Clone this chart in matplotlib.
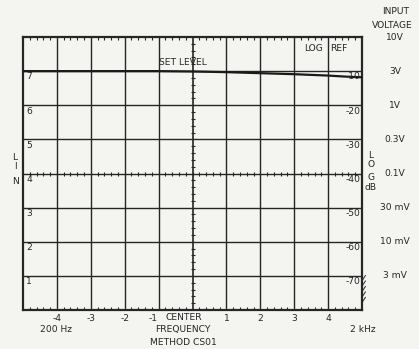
import numpy as np
import matplotlib.pyplot as plt
from matplotlib.ticker import MultipleLocator

# trace (horizontal divisions, vertical divisions)
freq_div = [-5, -4, -3, -2, -1, 0, 1, 2, 3, 4, 4.5, 5]
level_div = [7.0, 7.0, 7.0, 7.0, 7.0, 6.99, 6.97, 6.94, 6.91, 6.87, 6.84, 6.82]

lin_labels = ['1', '2', '3', '4', '5', '6', '7']
log_labels = ['-70', '-60', '-50', '-40', '-30', '-20', '-10']
volt_labels = ['3 mV', '10 mV', '30 mV', '0.1V', '0.3V', '1V', '3V', '10V']
freq_labels = ['-4', '-3', '-2', '-1', '1', '2', '3', '4']
freq_pos = [-4, -3, -2, -1, 1, 2, 3, 4]

bg = '#f4f4f1'
ink = '#262626'
fs = 6.6
fw = 'normal'

fig = plt.figure(figsize=(4.19, 3.49), dpi=100, facecolor=bg)
ax = fig.add_axes([23 / 419, 1 - 310 / 349, 339 / 419, 273 / 349])
ax.set_facecolor(bg)
ax.set_xlim(-5, 5)
ax.set_ylim(0, 8)

# graticule
for x in range(-4, 5):
    ax.axvline(x, color=ink, lw=1.0 if x else 1.2, zorder=1)
for y in range(1, 8):
    ax.axhline(y, color=ink, lw=1.0, zorder=1)
for s in ax.spines.values():
    s.set_color(ink)
    s.set_linewidth(1.6)

ax.xaxis.set_major_locator(MultipleLocator(1))
ax.xaxis.set_minor_locator(MultipleLocator(0.2))
ax.yaxis.set_major_locator(MultipleLocator(1))
ax.tick_params(which='both', direction='in', top=True, bottom=True,
               left=False, right=False, labelbottom=False, labelleft=False,
               color=ink)
ax.tick_params(which='major', length=0)
ax.tick_params(which='minor', length=2.2, width=0.8)

# fine ticks on the centre lines
minor = np.arange(0.2, 8, 0.2)
ax.plot(np.zeros_like(minor), minor, ls='none', marker='_', ms=3.5,
        mew=0.8, color=ink, zorder=2)
minor_x = np.arange(-4.8, 5, 0.2)
ax.plot(minor_x, np.full_like(minor_x, 4.0), ls='none', marker='|', ms=3.5,
        mew=0.8, color=ink, zorder=2)

# trace
ax.plot(freq_div, level_div, color='#1a1a1a', lw=1.6, zorder=3)

def label(x, y, s, ha='center', **kw):
    ax.text(x, y, s, fontsize=fs, fontweight=fw, color=ink, ha=ha,
            va='center', clip_on=False, **kw)

# labels inside the screen
for i, lab in enumerate(lin_labels):
    label(-4.9, i + 1 - 0.17, lab, ha='left')
for i, lab in enumerate(log_labels):
    label(4.96, i + 1 - 0.17, lab, ha='right')
label(-0.28, 7.24, 'SET LEVEL')
label(3.86, 7.65, 'LOG', ha='right')
label(4.06, 7.65, 'REF', ha='left')

# frequency labels below
for p, lab in zip(freq_pos, freq_labels):
    label(p - 0.15 if p == -1 else p, -0.24, lab)
label(-0.25, -0.22, 'CENTER')
label(-0.28, -0.57, 'FREQUENCY')
label(-0.26, -0.94, 'METHOD CS01')
label(-4.02, -0.57, '200 Hz')
label(5.02, -0.57, '2 kHz')

# hatch marks next to the -70 division
for y0 in [0.2, 0.36, 0.52, 0.68, 0.84]:
    ax.plot([4.99, 5.1], [y0, y0 + 0.17], color=ink, lw=0.7, clip_on=False)

def ftext(x, y, s, ha='center'):
    fig.text(x / 419, 1 - y / 349, s, fontsize=fs, fontweight=fw, color=ink,
             ha=ha, va='center')

# side captions
for ch, y in zip('LIN', [158, 167, 182]):
    ftext(15, y, ch)
for ch, y in zip(['L', 'O', 'G', 'dB'], [155, 165, 177, 188]):
    ftext(371, y, ch)

ftext(382, 12, 'INPUT', ha='left')
ftext(372, 25, 'VOLTAGE', ha='left')
for i, lab in enumerate(volt_labels):
    ftext(395, 310 - (i + 1) * 34.1, lab)

fig.savefig('out.png', dpi=100, facecolor=bg)
